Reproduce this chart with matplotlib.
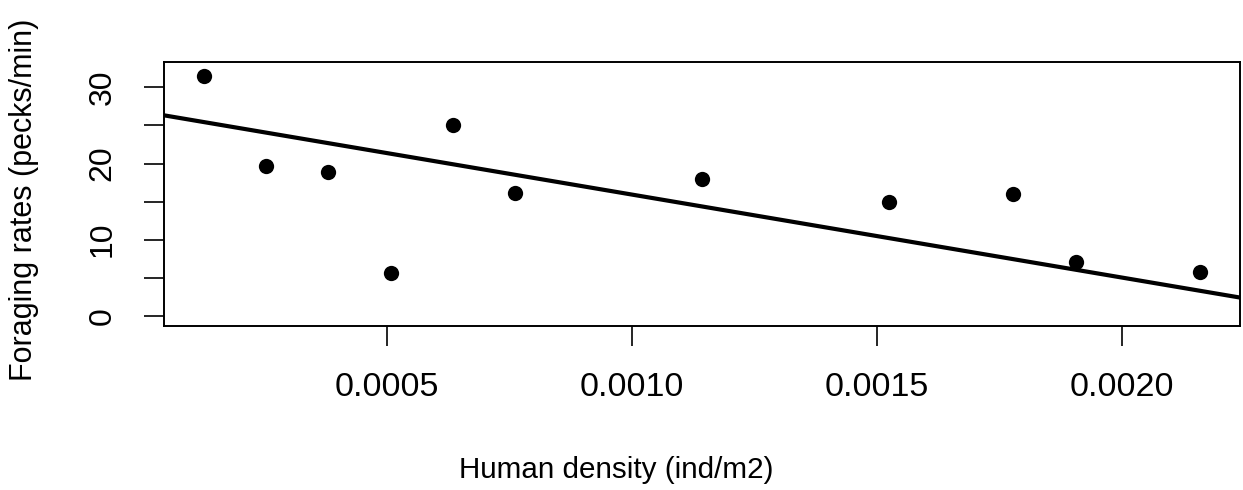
import numpy as np
import matplotlib
matplotlib.use("Agg")
import matplotlib.pyplot as plt

# Human density (individuals per m2) at each site and the observed foraging rate
human_density = [0.000127, 0.000254, 0.000381, 0.000508, 0.000635, 0.000762,
                 0.001143, 0.001524, 0.001778, 0.001905, 0.002159]
foraging_rate = [31.5, 19.7, 18.9, 5.6, 25.1, 16.1, 18.0, 14.9, 16.0, 7.1, 5.8]

# Fitted trend line (intercept, slope)
fit_intercept = 26.82
fit_slope = -10895.0

x_ticks = [0.0005, 0.0010, 0.0015, 0.0020]
x_tick_labels = ["0.0005", "0.0010", "0.0015", "0.0020"]
y_ticks = [0, 5, 10, 15, 20, 25, 30]
y_tick_labels = ["0", "", "10", "", "20", "", "30"]

plt.rcParams["font.family"] = ["Liberation Sans", "DejaVu Sans"]

fig = plt.figure(figsize=(12.43, 4.90), dpi=100)
ax = fig.add_axes([0.1319, 0.3353, 0.8657, 0.5376])

ax.plot(human_density, foraging_rate, "o", color="black", markersize=11,
        markeredgewidth=0, zorder=3)
ax.axline((0, fit_intercept), slope=fit_slope, color="black", linewidth=3.0,
          zorder=2)

# R-style axis ranges: 4% padding around data / requested limits
xr = max(human_density) - min(human_density)
ax.set_xlim(min(human_density) - 0.04 * xr, max(human_density) + 0.04 * xr)
ax.set_ylim(0 - 0.04 * 32, 32 + 0.04 * 32)

ax.set_xticks(x_ticks)
ax.set_xticklabels(x_tick_labels, fontsize=24.5)
ax.set_yticks(y_ticks)
ax.set_yticklabels(y_tick_labels, fontsize=23, rotation=90, va="center")

ax.tick_params(axis="both", direction="out", length=14.5, width=1.2,
               color="black", pad=19)
for s in ax.spines.values():
    s.set_linewidth(1.4)
    s.set_color("black")

ax.set_xlabel("Human density (ind/m2)", fontsize=21.3, va="center")
ax.xaxis.set_label_coords(0.42, -0.548)
ax.set_ylabel("Foraging rates (pecks/min)", fontsize=22, va="center")
ax.yaxis.set_label_coords(-0.1301, 0.477)

fig.savefig("out.png", dpi=100, facecolor="white")
